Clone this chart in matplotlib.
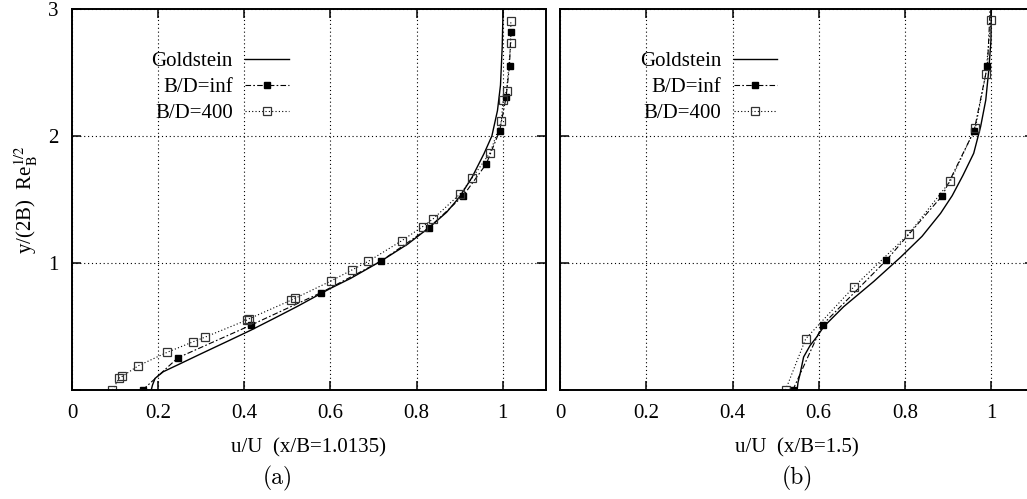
import matplotlib
matplotlib.use('Agg')
import matplotlib.pyplot as plt

plt.rcParams['font.family'] = ['Liberation Serif', 'DejaVu Serif']
plt.rcParams['mathtext.fontset'] = 'stix'

# ---------------------------
# Data
# ---------------------------
# panel (a), x/B = 1.0135
gold_a_u = [0.184, 0.187, 0.193, 0.212, 0.25, 0.30, 0.367, 0.416, 0.47, 0.522, 0.60, 0.647,
            0.718, 0.78, 0.829, 0.87, 0.90, 0.929, 0.957, 0.975, 0.988, 0.995, 0.999, 1.001]
gold_a_y = [0.0, 0.04, 0.092, 0.144, 0.205, 0.286, 0.393, 0.472, 0.565, 0.656, 0.80, 0.879,
            1.016, 1.15, 1.278, 1.40, 1.52, 1.675, 1.863, 2.0, 2.2, 2.4, 2.7, 3.0]

inf_a_u = [0.164, 0.246, 0.415, 0.578, 0.718, 0.829, 0.908, 0.962, 0.993, 1.008, 1.016, 1.019]
inf_a_y = [0.0, 0.254, 0.51, 0.766, 1.016, 1.278, 1.528, 1.78, 2.04, 2.305, 2.554, 2.815]

d400_a_u = [0.094, 0.110, 0.117, 0.154, 0.221, 0.280, 0.308, 0.406, 0.410, 0.508, 0.518, 0.601,
            0.650, 0.688, 0.766, 0.814, 0.839, 0.902, 0.929, 0.971, 0.997, 1.001, 1.009, 1.019, 1.019]
d400_a_y = [0.0, 0.097, 0.108, 0.191, 0.297, 0.378, 0.415, 0.551, 0.559, 0.706, 0.722, 0.858,
            0.945, 1.013, 1.176, 1.286, 1.349, 1.546, 1.669, 1.869, 2.118, 2.283, 2.354, 2.73, 2.906]

# panel (b), x/B = 1.5
gold_b_u = [0.55, 0.552, 0.557, 0.565, 0.58, 0.596, 0.612, 0.658, 0.728, 0.79, 0.84, 0.883,
            0.91, 0.935, 0.96, 0.976, 0.988, 0.995, 1.0, 1.001]
gold_b_y = [0.0, 0.06, 0.13, 0.26, 0.35, 0.42, 0.50, 0.656, 0.855, 1.045, 1.21, 1.391,
            1.53, 1.69, 1.864, 2.073, 2.283, 2.52, 2.75, 3.0]

inf_b_u = [0.540, 0.609, 0.757, 0.887, 0.961, 0.992, 0.999]
inf_b_y = [0.0, 0.514, 1.021, 1.53, 2.042, 2.554, 3.065]

d400_b_u = [0.523, 0.570, 0.682, 0.809, 0.906, 0.964, 0.988, 1.0]
d400_b_y = [0.0, 0.404, 0.813, 1.228, 1.646, 2.065, 2.488, 2.913]

x_ticks = [0, 0.2, 0.4, 0.6, 0.8, 1.0]
x_ticklabels = ['0', '0.2', '0.4', '0.6', '0.8', '1']
y_ticks = [0, 1, 2, 3]
y_ticklabels = ['', '1', '2', '3']

panels = [
    (gold_a_u, gold_a_y, inf_a_u, inf_a_y, d400_a_u, d400_a_y, 'u/U  (x/B=1.0135)', '(a)'),
    (gold_b_u, gold_b_y, inf_b_u, inf_b_y, d400_b_u, d400_b_y, 'u/U  (x/B=1.5)', '(b)'),
]

fig = plt.figure(figsize=(10.27, 4.99), dpi=100)
W, H = 1027.0, 499.0
ax_lefts = [72.0, 560.3]
ax_w = 473.7
fs = 15

for i, (gu, gy, iu, iy, du, dy, xlab, tag) in enumerate(panels):
    ax = fig.add_axes([ax_lefts[i] / W, (H - 390) / H, ax_w / W, 381 / H])
    l1, = ax.plot(gu, gy, color='black', lw=1.0, label='Goldstein')
    l2, = ax.plot(iu, iy, color='black', lw=0.8, linestyle=(0, (5, 2, 1.5, 2)),
                  marker='s', ms=4.5, mfc='black', mec='black', label='B/D=inf')
    l3, = ax.plot(du, dy, color='black', lw=0.8, linestyle=(0, (1, 2)),
                  marker='s', ms=5.5, mfc='none', mec='#333333', mew=0.9, label='B/D=400')

    ax.set_xlim(0, 1.1)
    ax.set_ylim(0, 3)
    ax.set_xticks(x_ticks)
    ax.set_xticklabels(x_ticklabels)
    ax.set_yticks(y_ticks)
    ax.set_yticklabels(y_ticklabels if i == 0 else ['', '', '', ''])
    ax.tick_params(direction='in', top=True, right=True, length=6.5, width=1.1,
                   labelsize=fs, pad=10)
    ax.grid(True, color='black', linestyle=(0, (1, 2.5)), linewidth=0.8)
    for s in ax.spines.values():
        s.set_linewidth(1.4)
    ax.set_xlabel(xlab, fontsize=fs, labelpad=11)

    # one legend per entry so the labels end up right-aligned (gnuplot key style)
    for k, (h, yc) in enumerate(zip([l1, l2, l3], [61, 87, 113])):
        leg = ax.legend(handles=[h], loc='center right',
                        bbox_to_anchor=(0.458, (390 - yc) / 381.0), frameon=False,
                        markerfirst=False, fontsize=fs, handlelength=2.1,
                        handletextpad=0.6, borderpad=0, borderaxespad=0)
        if k < 2:
            ax.add_artist(leg)

    fig.text((278.0 if i == 0 else 797.0) / W, (H - 478) / H, tag, family='cmr10',
             fontsize=17, ha='center', va='center')

fig.text(26 / W, 0.6, r'y/(2B)  Re$_\mathrm{B}^{1/2}$', rotation=90, fontsize=fs,
         ha='center', va='center')

fig.savefig('out.png', dpi=100)
